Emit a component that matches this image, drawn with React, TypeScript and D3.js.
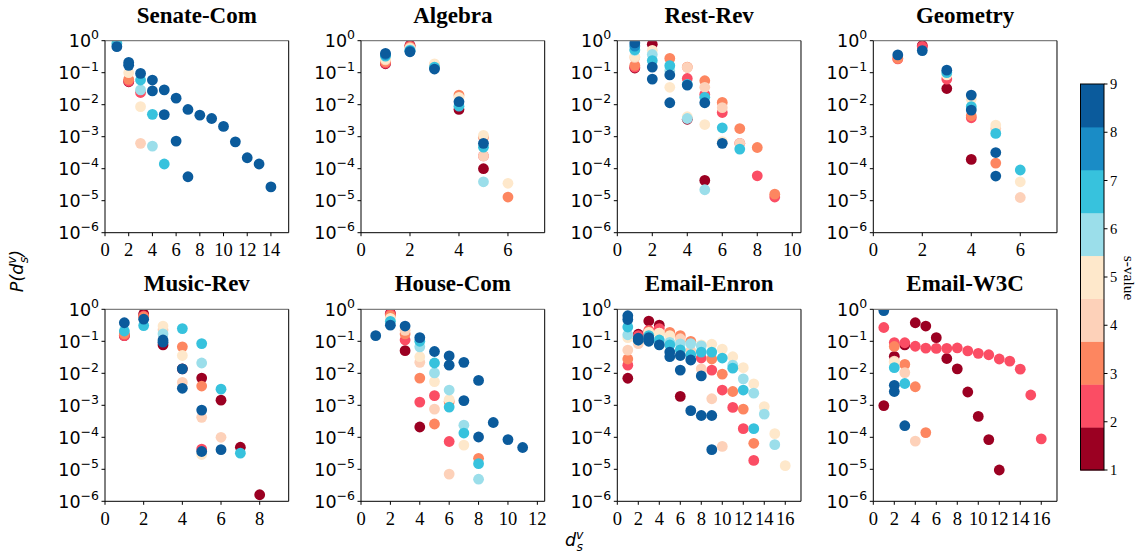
import React from "react";
import * as d3 from "d3";

// s-value colours, 1 (bottom of colour bar) .. 9 (top)
const sColors = ["#9b0022", "#fb4d64", "#fd8660", "#fdd1b9", "#fee8cb", "#9bdeea", "#37c2dd", "#1a8cc6", "#0b5b9c"];
const sTicks = [1, 2, 3, 4, 5, 6, 7, 8, 9];
const yTickExp = [0, -1, -2, -3, -4, -5, -6];

const panelNames = ["Senate-Com", "Algebra", "Rest-Rev", "Geometry", "Music-Rev", "House-Com", "Email-Enron", "Email-W3C"];
const panelXMax = [15.5, 7.5, 10.5, 7.5, 9.5, 12.5, 17.5, 17.5];

// [s, d_s^v, P]
const senateCom = [
  [7, 1, 0.82], [9, 1, 0.65],
  [1, 2, 0.052], [2, 2, 0.054], [3, 2, 0.062], [5, 2, 0.1], [9, 2, 0.17], [9, 2, 0.21],
  [4, 3, 6.2e-4], [5, 3, 0.0087], [2, 3, 0.024], [6, 3, 0.029], [7, 3, 0.059], [9, 3, 0.095],
  [6, 4, 5.1e-4], [7, 4, 0.005], [9, 4, 0.027], [9, 4, 0.059],
  [7, 5, 1.4e-4], [9, 5, 0.0049], [9, 5, 0.029],
  [9, 6, 7.3e-4], [9, 6, 0.016],
  [9, 7, 5.6e-5], [9, 7, 0.0071],
  [9, 8, 0.0047], [9, 9, 0.0037], [9, 10, 0.0021], [9, 11, 6.9e-4],
  [9, 12, 2.2e-4], [9, 13, 1.4e-4], [9, 14, 2.7e-5],
];

const algebra = [
  [1, 1, 0.19], [2, 1, 0.2], [3, 1, 0.22], [4, 1, 0.25], [5, 1, 0.27], [7, 1, 0.33], [8, 1, 0.37], [9, 1, 0.4],
  [1, 2, 0.72], [2, 2, 0.68], [3, 2, 0.63], [4, 2, 0.6], [5, 2, 0.55], [6, 2, 0.52], [7, 2, 0.5], [8, 2, 0.47], [9, 2, 0.45],
  [5, 3, 0.19], [4, 3, 0.18], [3, 3, 0.17], [1, 3, 0.15], [7, 3, 0.15], [9, 3, 0.13],
  [3, 4, 0.02], [5, 4, 0.017], [1, 4, 0.0071], [7, 4, 0.009], [9, 4, 0.0124],
  [5, 5, 0.0011], [3, 5, 9.6e-4], [9, 5, 6.2e-4], [7, 5, 4.7e-4], [2, 5, 2.5e-4], [4, 5, 2.5e-4], [1, 5, 1e-4], [6, 5, 3.9e-5],
  [5, 6, 3.5e-5], [3, 6, 1.3e-5],
];

const restRev = [
  [1, 1, 0.14], [2, 1, 0.15], [3, 1, 0.17], [4, 1, 0.3], [5, 1, 0.32], [6, 1, 0.5], [7, 1, 0.52], [8, 1, 0.68], [9, 1, 0.85],
  [1, 2, 0.77], [5, 2, 0.5], [6, 2, 0.37], [7, 2, 0.24], [9, 2, 0.15], [9, 2, 0.063],
  [3, 3, 0.28], [6, 3, 0.115], [7, 3, 0.166], [9, 3, 0.085], [5, 3, 0.035], [9, 3, 0.0115],
  [3, 4, 0.15], [4, 4, 0.147], [2, 4, 0.066], [7, 4, 0.043], [9, 4, 0.041], [1, 4, 0.0035], [5, 4, 0.0042], [6, 4, 0.0037],
  [3, 5, 0.056], [4, 5, 0.035], [2, 5, 0.021], [7, 5, 0.017], [9, 5, 0.0115], [5, 5, 0.0024], [1, 5, 4.3e-5], [6, 5, 2.2e-5],
  [3, 6, 0.0118], [4, 6, 0.0081], [2, 6, 0.0057], [7, 6, 0.0019], [5, 6, 7e-4], [9, 6, 6.2e-4],
  [3, 7, 0.0018], [2, 7, 6.2e-4], [4, 7, 6.2e-4], [7, 7, 4.1e-4],
  [3, 8, 4.6e-4], [2, 8, 6e-5],
  [2, 9, 1.3e-5], [3, 9, 1.6e-5],
];

const geometry = [
  [2, 1, 0.27], [3, 1, 0.28], [9, 1, 0.36],
  [1, 2, 0.7], [2, 2, 0.66], [9, 2, 0.49],
  [1, 3, 0.032], [2, 3, 0.063], [5, 3, 0.085], [7, 3, 0.1], [9, 3, 0.12],
  [1, 4, 1.95e-4], [2, 4, 0.0039], [3, 4, 0.0045], [9, 4, 0.0068], [7, 4, 0.0087], [5, 4, 0.0147], [9, 4, 0.02],
  [5, 5, 0.0023], [4, 5, 0.0018], [7, 5, 0.00127], [9, 5, 3.2e-4], [3, 5, 1.5e-4], [9, 5, 5.9e-5],
  [7, 6, 9.1e-5], [5, 6, 3.9e-5], [4, 6, 1.26e-5],
];

const musicRev = [
  [1, 1, 0.15], [2, 1, 0.15], [3, 1, 0.17], [7, 1, 0.21], [9, 1, 0.38],
  [1, 2, 0.71], [2, 2, 0.62], [3, 2, 0.58], [9, 2, 0.49], [7, 2, 0.31],
  [1, 3, 0.077], [4, 3, 0.23], [5, 3, 0.3], [6, 3, 0.17], [9, 3, 0.094], [9, 3, 0.11],
  [7, 4, 0.25], [3, 4, 0.067], [5, 4, 0.036], [1, 4, 0.0138], [9, 4, 0.0138], [4, 4, 0.0052], [9, 4, 0.0034],
  [7, 5, 0.085], [6, 5, 0.021], [1, 5, 0.0071], [3, 5, 0.004], [9, 5, 7.1e-4], [4, 5, 4.2e-4], [2, 5, 4.3e-5], [5, 5, 2.9e-5], [9, 5, 3.6e-5],
  [7, 6, 0.0032], [1, 6, 0.00145], [4, 6, 1e-4], [9, 6, 4.1e-5],
  [1, 7, 4.9e-5], [7, 7, 3.2e-5],
  [1, 8, 1.6e-6],
];

const houseCom = [
  [9, 1, 0.15],
  [1, 2, 0.75], [2, 2, 0.7], [3, 2, 0.63], [5, 2, 0.52], [7, 2, 0.42], [9, 2, 0.32],
  [1, 3, 0.051], [2, 3, 0.11], [3, 3, 0.17], [4, 3, 0.22], [9, 3, 0.3],
  [1, 4, 2.1e-4], [2, 4, 0.00126], [3, 4, 0.0071], [4, 4, 0.022], [5, 4, 0.033], [6, 4, 0.067], [7, 4, 0.1], [9, 4, 0.13],
  [3, 5, 2.6e-4], [4, 5, 7.6e-4], [2, 5, 0.002], [5, 5, 0.0055], [6, 5, 0.0103], [7, 5, 0.021], [9, 5, 0.048],
  [4, 6, 7.1e-6], [2, 6, 7.4e-5], [3, 6, 0.0013], [5, 6, 0.0015], [6, 6, 0.003], [7, 6, 8.8e-4], [9, 6, 0.018], [9, 6, 0.035],
  [5, 7, 5.7e-5], [6, 7, 2.4e-4], [7, 7, 1.36e-4], [9, 7, 0.0014], [9, 7, 0.022],
  [3, 8, 2.2e-5], [6, 8, 4.9e-6], [7, 8, 1.5e-5], [9, 8, 1.02e-4], [9, 8, 0.006],
  [9, 9, 2.9e-4], [9, 10, 8.5e-5], [9, 11, 4.8e-5],
];

const emailEnron = [
  [1, 1, 0.007], [2, 1, 0.018], [3, 1, 0.028], [4, 1, 0.053], [5, 1, 0.13], [6, 1, 0.16], [7, 1, 0.28], [9, 1, 0.48], [9, 1, 0.63],
  [1, 2, 0.166], [2, 2, 0.15], [3, 2, 0.1], [4, 2, 0.085], [7, 2, 0.11], [9, 2, 0.11], [9, 2, 0.125],
  [1, 3, 0.43], [2, 3, 0.22], [3, 3, 0.2], [5, 3, 0.19], [7, 3, 0.15], [9, 3, 0.1], [9, 3, 0.13],
  [1, 4, 0.32], [2, 4, 0.25], [4, 4, 0.18], [5, 4, 0.18], [7, 4, 0.11], [9, 4, 0.077],
  [3, 5, 0.19], [5, 5, 0.15], [6, 5, 0.093], [7, 5, 0.077], [9, 5, 0.046], [9, 5, 0.033],
  [3, 6, 0.15], [4, 6, 0.12], [6, 6, 0.083], [7, 6, 0.054], [9, 6, 0.036], [9, 6, 0.0126], [1, 6, 0.0019],
  [3, 7, 0.1], [6, 7, 0.085], [4, 7, 0.05], [7, 7, 0.038], [9, 7, 0.026], [9, 7, 6.8e-4],
  [5, 8, 0.077], [6, 8, 0.072], [7, 8, 0.046], [2, 8, 0.03], [4, 8, 0.0138], [9, 8, 0.0083], [9, 8, 4.8e-4],
  [5, 9, 0.081], [7, 9, 0.046], [3, 9, 0.028], [2, 9, 0.0126], [4, 9, 0.0016], [9, 9, 4.8e-4], [9, 9, 4.1e-5],
  [5, 10, 0.057], [7, 10, 0.03], [3, 10, 0.0094], [2, 10, 0.003], [4, 10, 5.2e-5],
  [5, 11, 0.033], [6, 11, 0.018], [7, 11, 0.0145], [3, 11, 0.0027], [2, 11, 8.6e-4],
  [5, 12, 0.015], [6, 12, 0.0067], [7, 12, 0.003], [3, 12, 7.6e-4], [2, 12, 1.86e-4],
  [5, 13, 0.0047], [6, 13, 0.0024], [7, 13, 1.86e-4], [3, 13, 6.5e-5], [2, 13, 1.9e-5],
  [5, 14, 9.1e-4], [6, 14, 5.3e-4],
  [5, 15, 1.3e-4], [6, 15, 5.9e-5],
  [5, 16, 1.3e-5],
];

const emailW3C = [
  [9, 1, 0.91], [2, 1, 0.27], [1, 1, 9.8e-4],
  [2, 2, 0.091], [3, 2, 0.069], [1, 2, 0.034], [4, 2, 0.024], [5, 2, 0.022], [7, 2, 0.015], [9, 2, 0.0042], [9, 2, 0.0027],
  [2, 3, 0.09], [1, 3, 0.077], [3, 3, 0.019], [4, 3, 0.0105], [7, 3, 0.0048], [9, 3, 2.3e-4],
  [1, 4, 0.38], [2, 4, 0.07], [3, 4, 0.0038], [4, 4, 7.6e-5],
  [1, 5, 0.3], [2, 5, 0.061], [3, 5, 1.4e-4],
  [1, 6, 0.13], [2, 6, 0.06],
  [1, 7, 0.029], [2, 7, 0.06],
  [1, 8, 0.0138], [2, 8, 0.062],
  [1, 9, 0.0026], [2, 9, 0.05],
  [1, 10, 4.5e-4], [2, 10, 0.042],
  [1, 11, 8.5e-5], [2, 11, 0.038],
  [1, 12, 9.5e-6], [2, 12, 0.028],
  [2, 13, 0.024], [2, 14, 0.0135], [2, 15, 0.0021], [2, 16, 8.9e-5],
];

const panelData = [senateCom, algebra, restRev, geometry, musicRev, houseCom, emailEnron, emailW3C];

const colLeft = [105, 361, 617.3, 873.3];
const rowTop = [40.7, 309.3];
const pw = 183.7;
const ph = 192;

const serif = "'Liberation Serif', 'Times New Roman', serif";
const sans = "'DejaVu Sans', sans-serif";

function Panel({ idx }: { idx: number }) {
  const left = colLeft[idx % 4];
  const top = rowTop[Math.floor(idx / 4)];
  const x = d3.scaleLinear().domain([0, panelXMax[idx]]).range([0, pw]);
  const y = d3.scaleLog().domain([1e-6, 1]).range([ph, 0]);
  const xt = d3.range(0, panelXMax[idx], 2);
  const pts = [...panelData[idx]].sort((a, b) => a[0] - b[0]);
  const clipId = "clip" + idx;
  return (
    <g transform={`translate(${left},${top})`}>
      <clipPath id={clipId}>
        <rect x={0} y={0} width={pw} height={ph} />
      </clipPath>
      <text x={pw / 2} y={-18} textAnchor="middle" fontFamily={serif} fontWeight="bold" fontSize={23}>
        {panelNames[idx]}
      </text>
      <g clipPath={`url(#${clipId})`}>
        {pts.map((p, i) => (
          <circle key={i} cx={x(p[1])} cy={y(p[2])} r={5.4} fill={sColors[Math.min(p[0], 9) - 1]} />
        ))}
      </g>
      <line x1={0} x2={pw} y1={0} y2={0} stroke="#808080" strokeWidth={1.3} />
      <line x1={pw} x2={pw} y1={0} y2={ph} stroke="#000" strokeWidth={1} />
      <line x1={0} x2={0} y1={0} y2={ph} stroke="#000" strokeWidth={1} />
      <line x1={0} x2={pw} y1={ph} y2={ph} stroke="#000" strokeWidth={1} />
      {yTickExp.map((e) => {
        const yy = y(Math.pow(10, e));
        return (
          <g key={e}>
            <line x1={-3.5} x2={0} y1={yy} y2={yy} stroke="#000" />
            <text x={-6} y={yy + 6.5} textAnchor="end" fontFamily={sans} fontSize={17.5}>
              10
              <tspan fontSize={12.5} dy={-8}>{e === 0 ? "0" : "\u2212" + Math.abs(e)}</tspan>
            </text>
          </g>
        );
      })}
      {xt.map((t) => (
        <g key={t}>
          <line x1={x(t)} x2={x(t)} y1={ph} y2={ph + 3.5} stroke="#000" />
          <text x={x(t)} y={ph + 23.5} textAnchor="middle" fontFamily={serif} fontSize={18.5}>
            {t}
          </text>
        </g>
      ))}
    </g>
  );
}

function ColorBar() {
  const cx = 1080.5;
  const cw = 23.5;
  const cTop = 84;
  const cBot = 470;
  const bh = (cBot - cTop) / sColors.length;
  const sy = d3.scaleLinear().domain([1, 9]).range([cBot, cTop]);
  return (
    <g>
      {sColors.map((c, i) => (
        <rect key={i} x={cx} y={cBot - (i + 1) * bh} width={cw} height={bh + 0.5} fill={c} />
      ))}
      <rect x={cx} y={cTop} width={cw} height={cBot - cTop} fill="none" stroke="#000" strokeWidth={1} />
      {sTicks.map((t) => (
        <g key={t}>
          <line x1={cx + cw} x2={cx + cw + 3.5} y1={sy(t)} y2={sy(t)} stroke="#000" />
          <text x={cx + cw + 6} y={sy(t) + 5} fontFamily={serif} fontSize={14.5}>
            {t}
          </text>
        </g>
      ))}
      <text transform="translate(1124,278) rotate(90)" textAnchor="middle" fontFamily={serif} fontSize={15.5}>
        s-value
      </text>
    </g>
  );
}

export default function App() {
  return (
    <svg width={1141} height={555} style={{ position: "absolute", left: 0, top: 0, background: "#fff" }}>
      {panelNames.map((_, i) => (
        <Panel key={i} idx={i} />
      ))}
      <ColorBar />
      <text transform="translate(23,271) rotate(-90)" textAnchor="middle" fontFamily={sans} fontStyle="italic" fontSize={17.5}>
        P(d
        <tspan fontSize={12.5} dy={-7}>v</tspan>
        <tspan fontSize={12.5} dx={-7} dy={12}>s</tspan>
        <tspan dy={-5}>)</tspan>
      </text>
      <text x={565} y={546} fontFamily={sans} fontStyle="italic" fontSize={17.5}>
        d
        <tspan fontSize={12.5} dy={-7}>v</tspan>
        <tspan fontSize={12.5} dx={-7} dy={12}>s</tspan>
      </text>
    </svg>
  );
}
